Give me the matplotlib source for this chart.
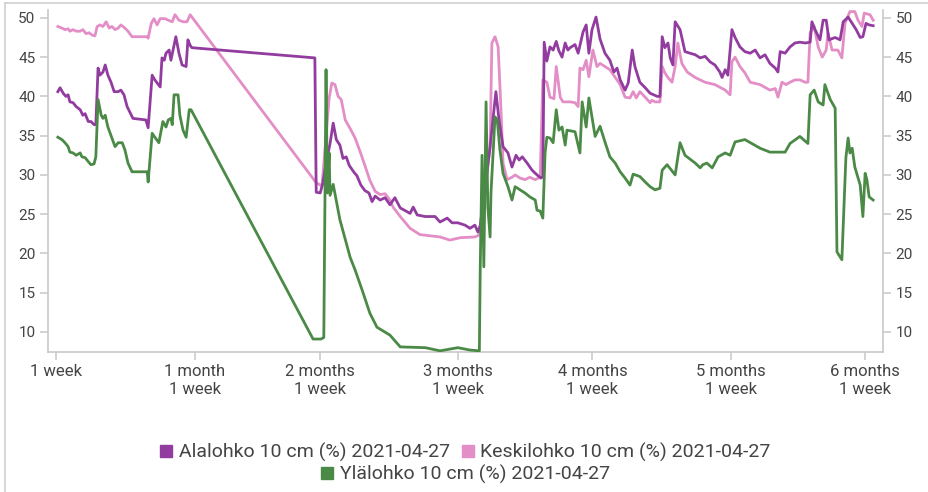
import matplotlib.pyplot as plt
from matplotlib.lines import Line2D

plt.rcParams['font.family'] = ['Roboto', 'DejaVu Sans']

# x values are days counted from the "1 week" tick
ala_days = [0.4, 0.9, 1.6, 2.2, 2.7, 3.1, 3.8, 4.5, 5.4, 6.0, 6.5, 7.2, 7.8, 8.5, 8.9, 9.4, 9.8, 10.5,
            11.0, 11.6, 12.3, 13.0, 13.9, 14.5, 15.2, 15.9, 16.6, 17.2, 20.1, 20.6, 21.5, 22.1, 23.3,
            23.7, 24.2, 24.6, 25.3, 25.7, 26.8, 27.5, 28.2, 29.1, 29.5, 30.0, 30.4, 57.9, 58.2, 59.1,
            59.7, 60.4, 61.3, 62.0, 62.7, 63.5, 64.2, 64.9, 65.6, 66.7, 67.3, 68.2, 69.1, 70.0, 70.7,
            71.4, 72.5, 73.6, 74.7, 75.8, 77.0, 79.2, 79.9, 80.8, 82.6, 84.8, 85.9, 87.5, 88.6, 89.9,
            91.5, 92.6, 93.7, 94.4, 94.9, 96.0, 97.1, 97.8, 98.4, 99.1, 100.0, 101.1, 102.0, 102.9,
            103.6, 104.3, 105.4, 106.5, 107.6, 108.5, 108.9, 109.2, 109.8, 110.5, 111.2, 111.9, 112.5,
            113.2, 113.9, 114.5, 115.0, 116.1, 116.8, 117.9, 118.6, 119.2, 119.9, 120.8, 121.7, 122.8,
            123.9, 124.8, 125.5, 126.2, 127.3, 128.0, 128.9, 129.5, 130.6, 131.8, 132.9, 134.5, 135.1,
            135.6, 136.2, 136.9, 137.4, 138.0, 138.5, 139.6, 140.7, 141.8, 143.0, 144.1, 145.2, 146.3,
            147.4, 148.5, 149.0, 149.7, 150.3, 151.2, 151.9, 153.0, 154.1, 155.3, 156.4, 157.5, 158.6,
            159.7, 160.9, 161.5, 162.0, 163.1, 164.2, 165.3, 166.4, 167.6, 168.7, 169.1, 169.8, 170.9,
            171.6, 172.3, 172.9, 174.3, 175.4, 176.1, 177.2, 178.1, 179.0, 179.9, 180.5, 181.2, 181.9,
            182.8]
ala_vals = [40.6, 41.1, 40.4, 40.0, 40.2, 39.3, 39.2, 38.7, 38.3, 37.6, 37.8, 36.8, 36.8, 36.4, 36.4, 43.6,
            42.7, 43.1, 44.0, 42.7, 41.8, 40.6, 40.6, 40.8, 40.2, 38.7, 37.9, 37.2, 37.0, 36.0, 42.7,
            42.1, 41.2, 44.9, 44.6, 45.5, 45.9, 44.6, 47.6, 45.5, 44.0, 43.8, 47.2, 46.5, 46.2, 44.9,
            27.8, 27.7, 29.0, 31.5, 34.0, 36.6, 34.5, 33.8, 32.1, 32.3, 31.2, 30.3, 29.9, 28.7, 28.0,
            27.7, 26.6, 27.3, 26.8, 27.1, 26.2, 27.1, 25.8, 25.1, 25.9, 24.9, 24.7, 24.7, 24.0, 24.5,
            23.9, 23.9, 23.6, 23.2, 23.6, 22.7, 23.6, 28.5, 33.6, 37.4, 40.6, 37.0, 33.6, 32.8, 31.0,
            32.5, 31.9, 32.3, 31.5, 30.6, 30.0, 29.6, 29.8, 46.9, 44.5, 46.3, 45.9, 47.0, 45.8, 45.0,
            46.8, 45.9, 46.2, 46.6, 45.5, 48.2, 49.1, 45.5, 48.5, 50.1, 47.3, 45.5, 44.6, 43.1, 43.6,
            42.1, 40.8, 41.7, 45.9, 43.8, 41.8, 41.1, 40.4, 40.0, 40.0, 47.6, 46.2, 46.8, 44.9, 44.0,
            49.5, 48.5, 45.7, 45.5, 45.3, 44.9, 45.1, 44.4, 44.0, 43.1, 42.4, 43.4, 42.7, 48.5, 47.5,
            46.3, 45.7, 45.5, 45.9, 44.9, 45.3, 44.2, 43.6, 43.1, 45.7, 45.5, 46.3, 46.8, 46.9, 46.8,
            46.9, 49.5, 48.5, 47.2, 49.7, 49.7, 47.2, 47.5, 47.2, 49.5, 50.1, 49.3, 48.5, 47.5, 47.6,
            49.3, 49.1, 49.0]

kes_days = [0.4, 1.3, 2.0, 2.7, 3.1, 3.8, 4.5, 5.4, 6.0, 6.7, 7.4, 8.1, 8.7, 9.2, 9.8, 10.5, 11.2, 11.9,
            12.5, 13.2, 13.9, 14.5, 15.4, 16.1, 17.0, 20.4, 20.6, 21.3, 21.9, 22.6, 23.3, 24.4, 25.1,
            26.0, 26.6, 27.5, 28.4, 29.3, 30.0, 58.2, 59.5, 61.1, 61.7, 62.4, 63.1, 63.8, 64.7, 65.8,
            66.9, 68.0, 69.1, 70.2, 71.4, 72.5, 73.6, 74.7, 75.4, 77.0, 79.2, 81.4, 85.9, 88.1, 90.4,
            93.7, 94.9, 97.1, 97.5, 98.2, 98.9, 99.6, 100.0, 100.9, 102.0, 102.7, 103.8, 104.9, 106.0,
            107.2, 108.3, 108.9, 109.8, 110.5, 111.4, 111.9, 112.8, 113.4, 114.3, 115.0, 116.1, 116.8,
            117.2, 117.9, 118.6, 119.2, 120.1, 121.0, 121.7, 122.8, 123.9, 125.1, 126.2, 127.3, 128.4,
            129.1, 129.8, 130.6, 131.8, 132.9, 133.3, 134.0, 135.1, 135.6, 136.2, 136.9, 137.8, 138.5,
            139.1, 140.0, 141.2, 143.0, 145.2, 147.4, 149.7, 150.8, 151.2, 151.9, 153.0, 154.1, 155.3,
            157.5, 159.7, 160.9, 161.5, 162.4, 163.3, 164.2, 165.3, 166.4, 167.6, 168.2, 168.7, 169.6,
            170.5, 171.4, 172.3, 172.7, 173.6, 174.9, 175.8, 176.5, 177.6, 178.7, 179.4, 180.3, 180.8,
            182.1, 182.8]
kes_vals = [48.9, 48.7, 48.5, 48.6, 48.3, 48.5, 48.3, 48.3, 48.5, 48.0, 48.1, 47.8, 47.7, 48.9, 49.1, 48.9,
            49.5, 48.7, 48.9, 48.5, 48.7, 49.1, 48.7, 48.3, 47.6, 47.6, 47.4, 49.3, 49.9, 49.1, 49.9,
            49.9, 49.7, 49.5, 50.4, 49.7, 49.5, 49.5, 50.4, 29.0, 28.6, 39.8, 41.7, 41.5, 40.0, 39.6,
            37.0, 35.9, 34.7, 33.0, 31.2, 29.3, 27.9, 27.5, 27.6, 26.8, 25.9, 24.7, 23.2, 22.4, 22.1,
            21.7, 22.0, 22.1, 22.4, 33.6, 46.8, 47.6, 46.3, 37.5, 31.5, 29.4, 29.7, 30.0, 29.6, 29.4,
            29.7, 29.4, 29.7, 42.1, 41.8, 39.9, 39.7, 43.8, 39.9, 39.3, 39.3, 39.3, 39.2, 38.7, 43.6,
            43.4, 44.6, 42.5, 45.9, 43.8, 44.2, 43.8, 43.4, 42.4, 41.5, 39.9, 39.8, 40.6, 39.8, 40.6,
            39.9, 39.2, 39.5, 39.3, 39.3, 43.8, 43.0, 42.4, 41.8, 43.8, 46.8, 44.2, 43.1, 42.4, 41.8,
            41.5, 40.8, 40.2, 44.4, 45.0, 43.8, 43.0, 41.8, 41.5, 40.8, 41.0, 39.9, 41.8, 41.5, 41.8,
            42.1, 42.1, 41.8, 41.8, 48.1, 48.9, 46.3, 45.0, 45.9, 48.1, 45.9, 45.9, 44.9, 49.3, 50.8,
            50.8, 49.7, 48.9, 50.6, 50.4, 49.7]

yla_days = [0.4, 1.3, 2.0, 2.7, 3.1, 3.8, 4.5, 5.4, 5.8, 6.5, 7.2, 7.8, 8.5, 8.9, 9.4, 10.1, 10.5, 11.0,
            11.6, 12.5, 13.2, 13.9, 14.8, 15.4, 16.1, 17.0, 18.8, 20.4, 20.6, 21.5, 22.1, 23.0, 23.9,
            24.6, 25.1, 25.7, 26.0, 26.4, 27.3, 27.7, 28.4, 29.1, 29.8, 30.2, 57.5, 59.3, 59.9, 60.4,
            60.7, 61.1, 61.3, 62.0, 63.5, 65.8, 66.9, 68.5, 70.2, 71.8, 74.7, 77.0, 82.6, 85.9, 89.9,
            92.6, 94.7, 94.9, 95.3, 95.7, 96.2, 96.6, 97.1, 97.3, 98.2, 98.7, 99.3, 100.0, 101.1, 102.0,
            102.7, 103.8, 104.9, 106.0, 107.2, 107.6, 108.3, 108.9, 109.4, 109.8, 110.5, 111.2, 111.9,
            112.5, 113.2, 113.9, 114.3, 116.1, 117.2, 117.7, 118.6, 119.2, 120.6, 121.7, 122.8, 123.9,
            125.1, 126.2, 127.3, 128.4, 129.1, 130.6, 131.8, 132.9, 134.0, 135.1, 135.6, 136.7, 138.5,
            139.6, 140.7, 143.0, 144.1, 144.7, 145.6, 146.8, 148.1, 149.7, 150.8, 151.9, 154.1, 157.5,
            159.7, 163.1, 164.2, 166.4, 168.2, 168.7, 169.6, 170.5, 171.6, 172.0, 173.2, 174.3, 174.7,
            175.8, 176.5, 176.7, 177.2, 177.6, 178.1, 178.7, 179.9, 180.5, 181.0, 181.4, 181.9, 182.8]
yla_vals = [34.8, 34.5, 34.1, 33.6, 32.9, 32.8, 32.5, 32.8, 32.3, 32.2, 31.7, 31.3, 31.4, 32.3, 39.6, 37.6,
            37.2, 37.6, 36.1, 34.7, 33.6, 34.1, 34.1, 33.2, 31.5, 30.4, 30.4, 30.4, 29.1, 35.3, 34.8,
            34.1, 36.8, 36.1, 37.0, 37.2, 36.4, 40.2, 40.2, 37.6, 35.7, 34.8, 38.3, 38.3, 9.1, 9.1, 9.3,
            43.4, 27.7, 32.8, 27.4, 28.8, 24.3, 19.5, 17.9, 15.3, 12.4, 10.6, 9.6, 8.1, 8.0, 7.6, 8.0,
            7.7, 7.6, 18.3, 32.5, 18.3, 39.3, 25.9, 22.1, 27.7, 37.4, 37.0, 33.2, 30.2, 28.5, 26.8,
            28.5, 28.1, 27.7, 27.2, 26.8, 25.5, 25.4, 24.5, 32.8, 34.8, 34.7, 34.1, 38.3, 35.7, 36.1,
            33.8, 35.7, 35.5, 32.8, 39.3, 36.1, 39.8, 34.9, 36.2, 34.2, 32.3, 31.5, 30.4, 29.6, 28.7,
            30.1, 29.8, 29.1, 28.5, 28.1, 28.3, 30.6, 31.3, 30.0, 34.1, 32.5, 31.5, 30.9, 31.3, 31.5,
            30.9, 32.3, 32.8, 32.5, 34.2, 34.5, 33.4, 32.9, 32.9, 34.0, 34.9, 34.0, 40.2, 40.8, 39.3,
            38.9, 41.5, 39.6, 38.5, 20.2, 19.2, 29.4, 32.2, 34.7, 32.8, 33.4, 31.0, 28.7, 24.7, 30.2,
            29.4, 27.2, 26.8]

series_labels = ['Alalohko 10 cm (%) 2021-04-27', 'Keskilohko 10 cm (%) 2021-04-27',
                 'Ylälohko 10 cm (%) 2021-04-27']
colors = ['#923ca0', '#e38ec6', '#4b8a46']

tick_days = [0, 31, 59, 90, 120, 151, 181]
tick_labels = ['1 week', '1 month\n1 week', '2 months\n1 week', '3 months\n1 week',
               '4 months\n1 week', '5 months\n1 week', '6 months\n1 week']
y_ticks = [10, 15, 20, 25, 30, 35, 40, 45, 50]

fig = plt.figure(figsize=(9.29, 4.92), dpi=100)
ax = fig.add_axes([48 / 929, 1 - 352 / 492, 835 / 929, 342 / 492])

ax.plot(ala_days, ala_vals, color=colors[0], lw=2.0, zorder=3)
ax.plot(kes_days, kes_vals, color=colors[1], lw=2.0, zorder=2)
ax.plot(yla_days, yla_vals, color=colors[2], lw=2.0, zorder=4)

ax.set_xlim(-1.8, 185)
ax.set_ylim(7.45, 51)
ax.set_xticks(tick_days)
ax.set_xticklabels(tick_labels, linespacing=1.25)
ax.set_yticks(y_ticks)

grey = '#c8c8c8'
text_col = '#444444'
for side in ['left', 'right', 'bottom']:
    ax.spines[side].set_color(grey)
    ax.spines[side].set_linewidth(1.2)
ax.spines['top'].set_visible(False)
ax.tick_params(axis='y', left=True, right=True, labelleft=True, labelright=True,
               colors=grey, labelcolor=text_col, labelsize=11, length=6, width=1.1, pad=3)
ax.tick_params(axis='x', colors=grey, labelcolor=text_col, labelsize=12, length=6, width=1.1, pad=3)

# frame of the figure
fig.add_artist(Line2D([5 / 929, 5 / 929], [0, 1 - 3 / 492], transform=fig.transFigure,
                      color='#d0d0d0', lw=1.2))
fig.add_artist(Line2D([5 / 929, 1], [1 - 3 / 492, 1 - 3 / 492], transform=fig.transFigure,
                      color='#d0d0d0', lw=1.2))


def handle(c):
    return Line2D([], [], color=c, marker='s', linestyle='none', markersize=8)


leg1 = fig.legend([handle(colors[0]), handle(colors[1])], series_labels[:2], ncol=2,
                  loc='center', bbox_to_anchor=(0.5, 1 - 452 / 492), frameon=False,
                  fontsize=14, handletextpad=0.25, columnspacing=0.5, handlelength=0.8,
                  labelcolor=text_col)
leg2 = fig.legend([handle(colors[2])], series_labels[2:], loc='center',
                  bbox_to_anchor=(0.5, 1 - 474 / 492), frameon=False, fontsize=14,
                  handletextpad=0.25, handlelength=0.8, labelcolor=text_col)

fig.savefig('out.png', dpi=100)
